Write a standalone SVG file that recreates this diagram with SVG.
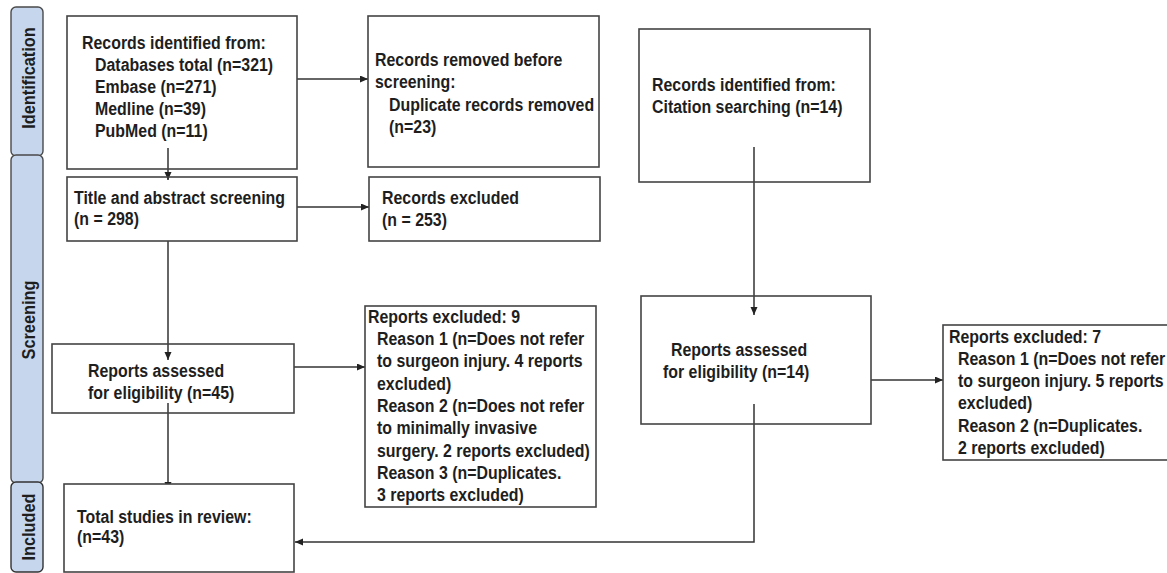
<svg xmlns="http://www.w3.org/2000/svg" width="1167" height="573" viewBox="0 0 1167 573">
<style>
.box{fill:#fff;stroke:#444;stroke-width:1.6}
.tab{fill:#c6d6ec;stroke:#4a4a4a;stroke-width:1.4}
.t{font-family:"Liberation Sans",Arial,sans-serif;font-weight:bold;font-size:18.5px;fill:#1e1e1e}
.tv{font-family:"Liberation Sans",Arial,sans-serif;font-weight:bold;font-size:19px;fill:#1e1e1e;text-anchor:middle}
.c{fill:none;stroke:#333;stroke-width:1.5}
</style>
<defs>
<marker id="ah" markerUnits="userSpaceOnUse" markerWidth="9" markerHeight="8" refX="8" refY="3.5" orient="auto">
<path d="M0,0 L8,3.5 L0,7 z" fill="#222"/>
</marker>
</defs>
<rect width="1167" height="573" fill="#fff"/>

<g id="tab-identification">
<rect class="tab" x="11" y="7" width="32" height="149" rx="5"/>
<text class="tv" transform="translate(35,78) rotate(-90) scale(0.86,1)">Identification</text>
</g>
<g id="tab-screening">
<rect class="tab" x="11" y="155" width="32" height="328" rx="5"/>
<text class="tv" transform="translate(35,320) rotate(-90) scale(0.86,1)">Screening</text>
</g>
<g id="tab-included">
<rect class="tab" x="11" y="482" width="32" height="90" rx="5" style="stroke:#333"/>
<text class="tv" transform="translate(35,527) rotate(-90) scale(0.86,1)">Included</text>
</g>

<g id="connectors">
<path class="c" d="M297,79 H368" marker-end="url(#ah)"/>
<path class="c" d="M168,148 V180" marker-end="url(#ah)"/>
<path class="c" d="M297,207 H369" marker-end="url(#ah)"/>
<path class="c" d="M168,241 V360" marker-end="url(#ah)"/>
<path class="c" d="M294,367 H365" marker-end="url(#ah)"/>
<path class="c" d="M168,403 V490" marker-end="url(#ah)"/>
<path class="c" d="M754,147 V315" marker-end="url(#ah)"/>
<path class="c" d="M871,380 H943" marker-end="url(#ah)"/>
<path class="c" d="M754,404 V542 H295" marker-end="url(#ah)"/>
</g>

<g id="records-identified">
<rect class="box" x="67" y="16" width="230" height="153" style="fill:none"/>
<text class="t" transform="translate(82,49) scale(0.86,1)">Records identified from:</text>
<text class="t" transform="translate(95,71) scale(0.86,1)">Databases total (n=321)</text>
<text class="t" transform="translate(95,93) scale(0.86,1)">Embase (n=271)</text>
<text class="t" transform="translate(95,115) scale(0.86,1)">Medline (n=39)</text>
<text class="t" transform="translate(95,137) scale(0.86,1)">PubMed (n=11)</text>
</g>

<g id="records-removed">
<rect class="box" x="368" y="16" width="231" height="151"/>
<text class="t" transform="translate(375,66) scale(0.86,1)">Records removed before</text>
<text class="t" transform="translate(375,88) scale(0.86,1)">screening:</text>
<text class="t" transform="translate(389,111) scale(0.86,1)">Duplicate records removed</text>
<text class="t" transform="translate(389,133) scale(0.86,1)">(n=23)</text>
</g>

<g id="citation">
<rect class="box" x="639" y="29" width="231" height="153" style="fill:none"/>
<text class="t" transform="translate(652,91) scale(0.86,1)">Records identified from:</text>
<text class="t" transform="translate(652,113) scale(0.86,1)">Citation searching (n=14)</text>
</g>

<g id="title-screening">
<rect class="box" x="67" y="177" width="230" height="64" style="fill:none"/>
<text class="t" transform="translate(74,204) scale(0.86,1)">Title and abstract screening</text>
<text class="t" transform="translate(74,225) scale(0.86,1)">(n = 298)</text>
</g>

<g id="records-excluded">
<rect class="box" x="369" y="177" width="231" height="64"/>
<text class="t" transform="translate(382,204) scale(0.86,1)">Records excluded</text>
<text class="t" transform="translate(382,226) scale(0.86,1)">(n = 253)</text>
</g>

<g id="reports-assessed-1">
<rect class="box" x="52" y="344" width="242" height="69" style="fill:none"/>
<text class="t" transform="translate(88,377) scale(0.86,1)">Reports assessed</text>
<text class="t" transform="translate(88,399) scale(0.86,1)">for eligibility (n=45)</text>
</g>

<g id="reports-excluded-1">
<rect class="box" x="365" y="306" width="231" height="201"/>
<text class="t" transform="translate(368,323) scale(0.86,1)">Reports excluded: 9</text>
<text class="t" transform="translate(377,345) scale(0.86,1)">Reason 1 (n=Does not refer</text>
<text class="t" transform="translate(377,367) scale(0.86,1)">to surgeon injury. 4 reports</text>
<text class="t" transform="translate(377,390) scale(0.86,1)">excluded)</text>
<text class="t" transform="translate(377,412) scale(0.86,1)">Reason 2 (n=Does not refer</text>
<text class="t" transform="translate(377,434) scale(0.86,1)">to minimally invasive</text>
<text class="t" transform="translate(377,457) scale(0.86,1)">surgery. 2 reports excluded)</text>
<text class="t" transform="translate(377,479) scale(0.86,1)">Reason 3 (n=Duplicates.</text>
<text class="t" transform="translate(377,501) scale(0.86,1)">3 reports excluded)</text>
</g>

<g id="reports-assessed-2">
<rect class="box" x="641" y="296" width="230" height="128" style="fill:none"/>
<text class="t" transform="translate(671,356) scale(0.86,1)">Reports assessed</text>
<text class="t" transform="translate(663,378) scale(0.86,1)">for eligibility (n=14)</text>
</g>

<g id="reports-excluded-2">
<rect class="box" x="943" y="325" width="230" height="135"/>
<text class="t" transform="translate(949,343) scale(0.86,1)">Reports excluded: 7</text>
<text class="t" transform="translate(958,365) scale(0.86,1)">Reason 1 (n=Does not refer</text>
<text class="t" transform="translate(958,387) scale(0.86,1)">to surgeon injury. 5 reports</text>
<text class="t" transform="translate(958,409) scale(0.86,1)">excluded)</text>
<text class="t" transform="translate(958,432) scale(0.86,1)">Reason 2 (n=Duplicates.</text>
<text class="t" transform="translate(958,454) scale(0.86,1)">2 reports excluded)</text>
</g>

<g id="total">
<rect class="box" x="64" y="484" width="230" height="88"/>
<text class="t" transform="translate(77,523) scale(0.86,1)">Total studies in review:</text>
<text class="t" transform="translate(77,543) scale(0.86,1)">(n=43)</text>
</g>
</svg>
